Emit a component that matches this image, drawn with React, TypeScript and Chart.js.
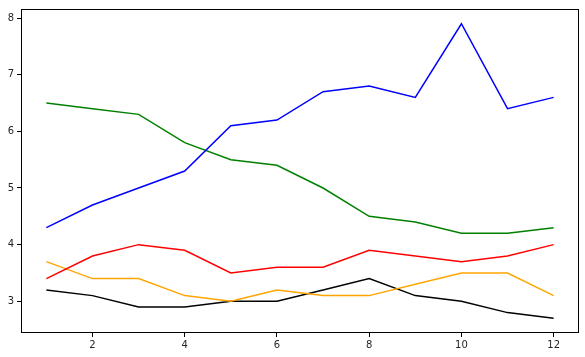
import React, { useEffect, useRef } from "react";
import { Chart, registerables } from "chart.js";

Chart.register(...registerables);

const months = [1, 2, 3, 4, 5, 6, 7, 8, 9, 10, 11, 12];
const blueSeries = [4.3, 4.7, 5.0, 5.3, 6.1, 6.2, 6.7, 6.8, 6.6, 7.9, 6.4, 6.6];
const greenSeries = [6.5, 6.4, 6.3, 5.8, 5.5, 5.4, 5.0, 4.5, 4.4, 4.2, 4.2, 4.3];
const redSeries = [3.4, 3.8, 4.0, 3.9, 3.5, 3.6, 3.6, 3.9, 3.8, 3.7, 3.8, 4.0];
const orangeSeries = [3.7, 3.4, 3.4, 3.1, 3.0, 3.2, 3.1, 3.1, 3.3, 3.5, 3.5, 3.1];
const blackSeries = [3.2, 3.1, 2.9, 2.9, 3.0, 3.0, 3.2, 3.4, 3.1, 3.0, 2.8, 2.7];
const xTicks = [2, 4, 6, 8, 10, 12];
const yTicks = [3, 4, 5, 6, 7, 8];

const series: [number[], string][] = [
  [blueSeries, "#0000ff"],
  [greenSeries, "#008000"],
  [redSeries, "#ff0000"],
  [orangeSeries, "#ffa500"],
  [blackSeries, "#000000"],
];

const boxPlugin = {
  id: "boxPlugin",
  afterDraw(chart: any) {
    const { ctx, chartArea } = chart;
    ctx.save();
    ctx.strokeStyle = "#000";
    ctx.lineWidth = 1;
    ctx.strokeRect(
      Math.round(chartArea.left) + 0.5,
      Math.round(chartArea.top) + 0.5,
      Math.round(chartArea.right - chartArea.left) - 1,
      Math.round(chartArea.bottom - chartArea.top) - 1
    );
    ctx.restore();
  },
};

export default function App() {
  const ref = useRef<HTMLCanvasElement | null>(null);
  useEffect(() => {
    document.body.style.margin = "0";
    const ctx = ref.current!;
    const xmin = 1 - 0.05 * 11;
    const xmax = 12 + 0.05 * 11;
    const all = [...blueSeries, ...greenSeries, ...redSeries, ...orangeSeries, ...blackSeries];
    const lo = Math.min(...all);
    const hi = Math.max(...all);
    const pad = (hi - lo) * 0.05;
    const chart = new Chart(ctx, {
      type: "line",
      data: {
        datasets: series.map(([vals, color]) => ({
          data: months.map((m, i) => ({ x: m, y: vals[i] })),
          borderColor: color,
          backgroundColor: color,
          borderWidth: 1.5,
          pointRadius: 0,
          tension: 0,
          fill: false,
        })),
      },
      options: {
        animation: false,
        responsive: false,
        events: [],
        layout: { padding: { top: 7, right: 6, left: 0, bottom: 0 } },
        plugins: { legend: { display: false }, tooltip: { enabled: false } },
        scales: {
          x: {
            type: "linear",
            min: xmin,
            max: xmax,
            afterBuildTicks: (s: any) => {
              s.ticks = xTicks.map((v) => ({ value: v }));
            },
            afterFit: (s: any) => {
              s.height = 24;
            },
            border: { display: false },
            grid: {
              display: true,
              drawOnChartArea: false,
              drawTicks: true,
              tickLength: 4,
              color: "#000",
            },
            ticks: {
              color: "#262626",
              font: { family: "DejaVu Sans", size: 10 },
              padding: 2,
              maxRotation: 0,
              callback: (v: any) => String(v),
            },
          },
          y: {
            type: "linear",
            min: lo - pad,
            max: hi + pad,
            afterBuildTicks: (s: any) => {
              s.ticks = yTicks.map((v) => ({ value: v }));
            },
            afterFit: (s: any) => {
              s.width = 21;
            },
            border: { display: false },
            grid: {
              display: true,
              drawOnChartArea: false,
              drawTicks: true,
              tickLength: 4,
              color: "#000",
            },
            ticks: {
              color: "#262626",
              font: { family: "DejaVu Sans", size: 10 },
              padding: 3,
              callback: (v: any) => String(v),
            },
          },
        },
      },
      plugins: [boxPlugin],
    });
    return () => chart.destroy();
  }, []);
  return (
    <canvas
      ref={ref}
      width={585}
      height={357}
      style={{ display: "block", width: 585, height: 357 }}
    />
  );
}
